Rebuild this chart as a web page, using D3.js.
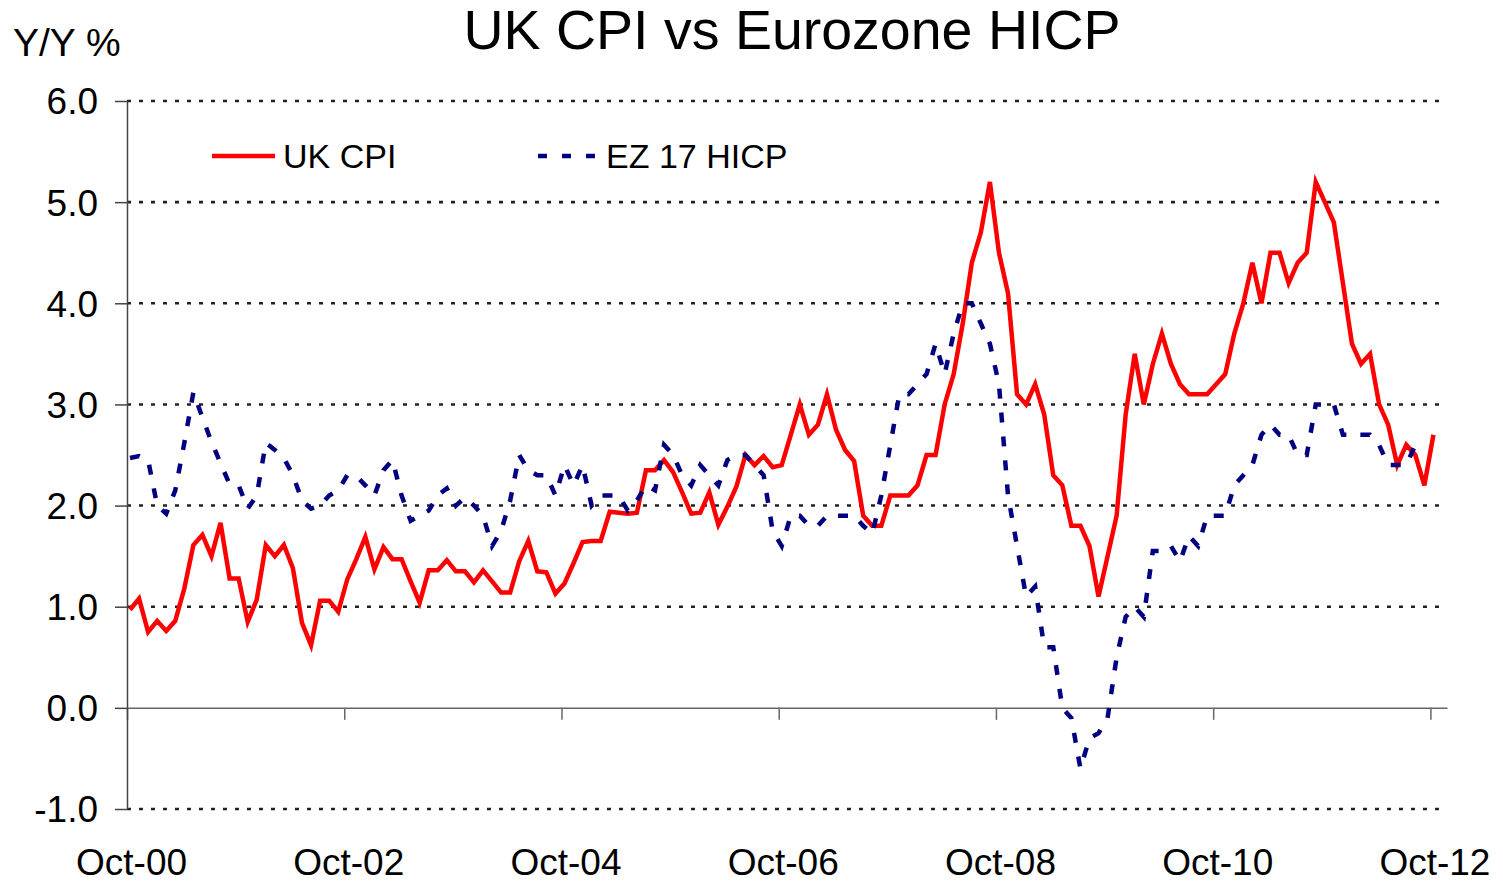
<!DOCTYPE html>
<html lang="en">

<head>
    <meta charset="UTF-8">
    <title>UK CPI vs Eurozone HICP</title>
    <script src="https://d3js.org/d3.v7.min.js"></script>
    <style>
        body {
            margin: 0;
            background-color: white;
        }

        #chart text {
            font-family: "Liberation Sans", Arial, sans-serif;
            fill: black;
        }
    </style>
</head>

<body>
    <svg id="chart" width="1503" height="883"></svg>
    <script>
        // monthly data, first value = Oct-00
        const ukCpi = [
            0.97, 1.08, 0.75, 0.86, 0.76, 0.86, 1.18, 1.61, 1.71, 1.50, 1.83, 1.28,
            1.28, 0.85, 1.07, 1.61, 1.50, 1.61, 1.38, 0.84, 0.62, 1.06, 1.06, 0.95,
            1.27, 1.47, 1.69, 1.37, 1.59, 1.47, 1.47, 1.25, 1.04, 1.36, 1.36, 1.46,
            1.35, 1.35, 1.24, 1.36, 1.25, 1.14, 1.14, 1.45, 1.65, 1.35, 1.34, 1.13,
            1.23, 1.43, 1.64, 1.65, 1.65, 1.94, 1.93, 1.92, 1.93, 2.35, 2.35, 2.45,
            2.33, 2.13, 1.92, 1.93, 2.13, 1.81, 1.99, 2.19, 2.50, 2.40, 2.49, 2.38,
            2.4, 2.7, 3.0, 2.7, 2.8, 3.1, 2.75, 2.55, 2.44, 1.9, 1.8, 1.8,
            2.1, 2.1, 2.1, 2.2, 2.5, 2.5, 3.0, 3.3, 3.8, 4.4, 4.7, 5.2,
            4.5, 4.1, 3.1, 3.0, 3.2, 2.9, 2.3, 2.2, 1.8, 1.8, 1.6, 1.1,
            1.5, 1.9, 2.9, 3.5, 3.0, 3.4, 3.7, 3.4, 3.2, 3.1, 3.1, 3.1,
            3.2, 3.3, 3.7, 4.0, 4.4, 4.0, 4.5, 4.5, 4.2, 4.4, 4.5, 5.2,
            5.0, 4.8, 4.2, 3.6, 3.4, 3.5, 3.0, 2.8, 2.4, 2.6, 2.5, 2.2,
            2.7
        ];

        const ezHicp = [
            2.47, 2.49, 2.45, 2.0, 1.92, 2.15, 2.62, 3.12, 2.87, 2.63, 2.42, 2.21,
            2.2, 1.97, 2.1, 2.62, 2.55, 2.47, 2.3, 2.05, 1.97, 2.0, 2.1, 2.15,
            2.3, 2.29, 2.2, 2.1, 2.35, 2.45, 2.1, 1.85, 1.9, 1.95, 2.1, 2.17,
            2.0, 2.08, 2.0, 1.9, 1.6, 1.75, 2.05, 2.5, 2.35, 2.3, 2.3, 2.1,
            2.4, 2.2, 2.4, 2.0, 2.1, 2.1, 2.1, 1.95, 2.05, 2.2, 2.15, 2.6,
            2.5, 2.3, 2.2, 2.4, 2.3, 2.2, 2.45, 2.5, 2.5, 2.4, 2.3, 1.75,
            1.6, 1.9, 1.9, 1.8, 1.8, 1.9, 1.9, 1.9, 1.9, 1.8, 1.72, 2.1,
            2.6, 3.1, 3.1, 3.2, 3.3, 3.6, 3.3, 3.7, 4.0, 4.0, 3.8, 3.6,
            3.2, 2.1, 1.6, 1.1, 1.2, 0.6, 0.6, 0.0, -0.1, -0.6, -0.3, -0.25,
            -0.1, 0.5, 0.9, 1.0, 0.9, 1.55, 1.55, 1.6, 1.45, 1.7, 1.6, 1.9,
            1.9, 1.9, 2.2, 2.3, 2.4, 2.7, 2.8, 2.7, 2.7, 2.5, 2.5, 3.0,
            3.0, 3.0, 2.7, 2.7, 2.7, 2.7, 2.6, 2.4, 2.4, 2.4, 2.6, 2.6
        ];

        const tickMonths = [0, 24, 48, 72, 96, 120, 144];
        const tickLabels = ['Oct-00', 'Oct-02', 'Oct-04', 'Oct-06', 'Oct-08', 'Oct-10', 'Oct-12'];
        const yTicks = [-1, 0, 1, 2, 3, 4, 5, 6];

        const svg = d3.select('#chart');

        const plotLeft = 127, plotRight = 1447, plotTop = 101, plotBottom = 809;
        // ticks sit a third of a month before the data point of that month
        const tickShift = 1 / 3;

        const x = d3.scaleLinear()
            .domain([-tickShift, 145.5])
            .range([plotLeft, plotRight]);

        const y = d3.scaleLinear()
            .domain([-1, 6])
            .range([plotBottom, plotTop]);

        // title
        svg.append('text')
            .attr('x', 792)
            .attr('y', 49)
            .attr('text-anchor', 'middle')
            .style('font-size', '55.5px')
            .text('UK CPI vs Eurozone HICP');

        svg.append('text')
            .attr('x', 13)
            .attr('y', 56)
            .style('font-size', '39px')
            .text('Y/Y %');

        // dotted grid lines
        svg.selectAll('line.grid')
            .data(yTicks.filter(d => d != 0))
            .enter()
            .append('line')
            .attr('class', 'grid')
            .attr('x1', plotLeft)
            .attr('x2', plotRight)
            .attr('y1', d => y(d))
            .attr('y2', d => y(d))
            .attr('stroke', '#222')
            .attr('stroke-width', 2.6)
            .attr('stroke-dasharray', '4 8');

        // x axis on the zero line
        const xAxis = svg.append('g')
            .attr('transform', `translate(0,${y(0)})`)
            .call(
                d3.axisBottom(x)
                    .tickValues(tickMonths.map(d => d - tickShift))
                    .tickSize(12)
                    .tickSizeOuter(0)
                    .tickFormat((d, i) => tickLabels[i])
            );
        xAxis.select('.domain').attr('stroke', '#666').attr('stroke-width', 1.5);
        xAxis.selectAll('.tick line').attr('stroke', '#666').attr('stroke-width', 1.5);
        xAxis.selectAll('.tick text')
            .attr('y', y(-1) - y(0) + 66)
            .attr('dy', 0)
            .attr('x', x(0) - x(-tickShift) + 1)
            .style('font-size', '37px');

        // y axis
        const yAxis = svg.append('g')
            .attr('transform', `translate(${plotLeft},0)`)
            .call(
                d3.axisLeft(y)
                    .tickValues(yTicks)
                    .tickSize(12)
                    .tickSizeOuter(0)
                    .tickPadding(17)
                    .tickFormat(d => d.toFixed(1))
            );
        yAxis.select('.domain').attr('stroke', '#444').attr('stroke-width', 1.5);
        yAxis.selectAll('.tick line').attr('stroke', '#444').attr('stroke-width', 1.5);
        yAxis.selectAll('.tick text')
            .attr('dy', '0.35em')
            .style('font-size', '37px');

        const line = d3.line()
            .x((d, i) => x(i))
            .y(d => y(d));

        svg.append('path')
            .datum(ukCpi)
            .attr('d', line)
            .attr('fill', 'none')
            .attr('stroke', '#ff0000')
            .attr('stroke-width', 4.5);

        svg.append('path')
            .datum(ezHicp)
            .attr('d', line)
            .attr('fill', 'none')
            .attr('stroke', '#000080')
            .attr('stroke-width', 4.5)
            .attr('stroke-dasharray', '10 14');

        // legend
        const legend = [
            { name: 'UK CPI', color: '#ff0000', width: 4.5, dash: null, x1: 212, x2: 275 },
            { name: 'EZ 17 HICP', color: '#000080', width: 4.5, dash: '9 15', x1: 538, x2: 598 }
        ];

        const item = svg.selectAll('g.legend')
            .data(legend)
            .enter()
            .append('g')
            .attr('class', 'legend');

        item.append('line')
            .attr('x1', d => d.x1)
            .attr('x2', d => d.x2)
            .attr('y1', 156)
            .attr('y2', 156)
            .attr('stroke', d => d.color)
            .attr('stroke-width', d => d.width)
            .attr('stroke-dasharray', d => d.dash);

        item.append('text')
            .attr('x', d => d.x2 + 8)
            .attr('y', 168)
            .style('font-size', '34px')
            .text(d => d.name);
    </script>
</body>

</html>
